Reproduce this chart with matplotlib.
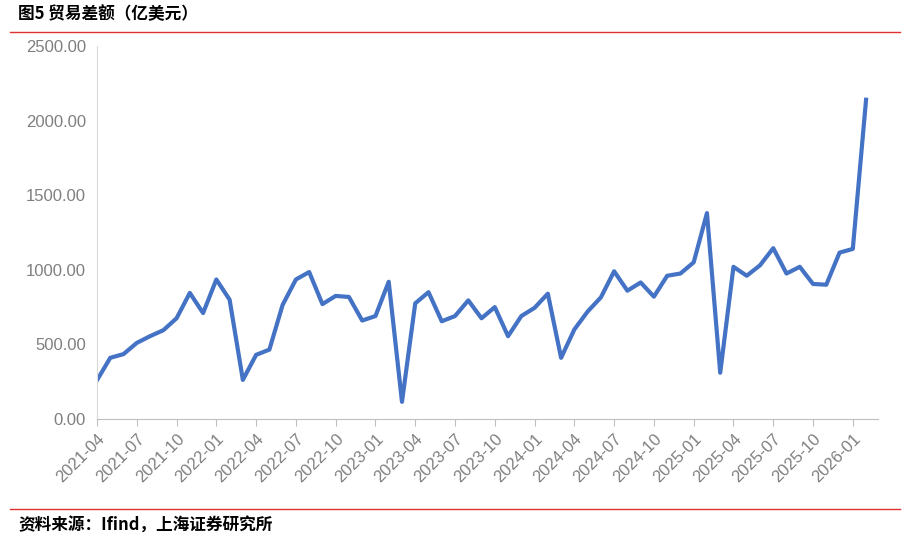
import matplotlib
matplotlib.use("Agg")
import matplotlib.pyplot as plt
import pandas as pd

plt.rcParams['font.family'] = ['Liberation Sans', 'Noto Sans CJK SC', 'DejaVu Sans']

months = pd.date_range("2021-04-01", "2026-02-01", freq="MS")
values = [260, 410, 435, 510, 555, 595, 675, 845, 710, 935, 800, 262,
          430, 465, 765, 935, 985, 770, 825, 818, 660, 690, 920, 115,
          775, 850, 655, 690, 795, 675, 750, 555, 690, 745, 840, 410,
          600, 720, 815, 990, 860, 915, 820, 960, 975, 1050, 1380, 310,
          1020, 960, 1030, 1145, 975, 1020, 905, 900, 1115, 1140, 2140]
tick_labels = [m.strftime("%Y-%m") for m in months][::3]

fig = plt.figure(figsize=(9.08, 5.42), dpi=100)
ax = fig.add_axes([97/908, 1-419/542, 781/908, 373/542])
x = list(range(len(values)))
ax.plot(x, values, color="#4472C4", lw=3)
ax.set_xlim(0, 58.9)
ax.set_ylim(0, 2500)
ax.set_yticks([0, 500, 1000, 1500, 2000, 2500])
ax.set_yticklabels([f"{v:.2f}" for v in [0, 500, 1000, 1500, 2000, 2500]],
                   color="#7f7f7f", fontsize=12)
ax.set_xticks(x[::3])
ax.set_xticklabels(tick_labels, rotation=45, ha="right", rotation_mode="anchor",
                   color="#7f7f7f", fontsize=12)
for s in ["top", "right"]:
    ax.spines[s].set_visible(False)
ax.spines["left"].set_color("#d9d9d9")
ax.spines["bottom"].set_color("#bfbfbf")
ax.tick_params(axis="y", length=0, pad=8)
ax.tick_params(axis="x", color="#bfbfbf", length=5)

fig.text(18/908, 1-14/542, "图5 贸易差额（亿美元）", fontsize=12, fontweight="bold",
         va="center", family=['Noto Sans CJK SC', 'DejaVu Sans'])
fig.add_artist(plt.Line2D([10/908, 900/908], [1-32/542]*2, color="#e03030", lw=1))
fig.add_artist(plt.Line2D([10/908, 900/908], [1-509/542]*2, color="#e03030", lw=1))
fig.text(18/908, 1-526/542, "资料来源：Ifind，上海证券研究所", fontsize=12, fontweight="bold",
         style="italic", va="center", family=['Noto Sans CJK SC', 'DejaVu Sans'])
fig.savefig("out.png", dpi=100)
